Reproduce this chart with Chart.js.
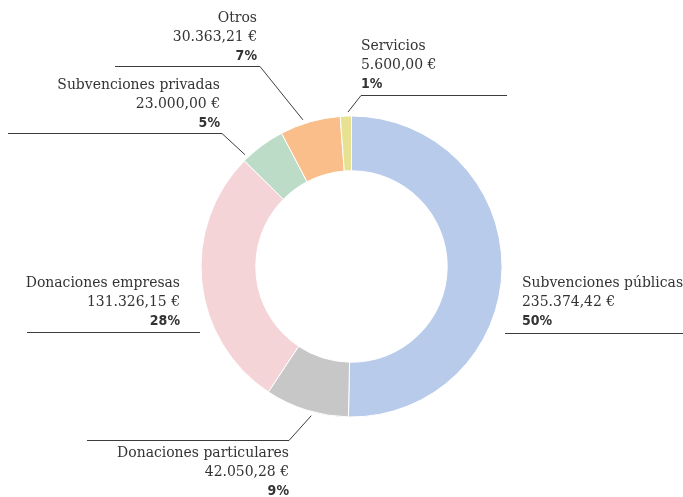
<!DOCTYPE html>
<html>
<head>
<meta charset="utf-8">
<script src="https://cdn.jsdelivr.net/npm/chart.js@4"></script>
<style>
  html, body { margin: 0; padding: 0; background: #fff; }
  #wrap { width: 683px; height: 497px; }
</style>
</head>
<body>
<div id="wrap"><canvas id="ingresos"></canvas></div>
<script>
// data
const categories = ['Subvenciones públicas', 'Donaciones particulares', 'Donaciones empresas',
    'Subvenciones privadas', 'Otros', 'Servicios'];
const amounts = [235374.42, 42050.28, 131326.15, 23000.00, 30363.21, 5600.00];
const pctLabels = ['50%', '9%', '28%', '5%', '7%', '1%'];

const sliceColors = ['#b9cbeb', '#c7c7c7', '#f5d4d8', '#bcdcc8', '#f9be8a', '#e6e291'];

// where each label sits, and where its leader line runs (at = point along the slice)
const labelLayout = [
    { x: 522, y: 283, align: 'left',  lineY: 333, lineFrom: 505, lineTo: 683, at: null },
    { x: 289, y: 453, align: 'right', lineY: 440, lineFrom: 87,  lineTo: 289, at: 0.43 },
    { x: 180, y: 283, align: 'right', lineY: 332, lineFrom: 27,  lineTo: 200, at: null },
    { x: 220, y: 85,  align: 'right', lineY: 133, lineFrom: 8,   lineTo: 222, at: 0.1 },
    { x: 257, y: 18,  align: 'right', lineY: 66,  lineFrom: 115, lineTo: 260, at: 0.4 },
    { x: 361, y: 46,  align: 'left',  lineY: 95,  lineFrom: 361, lineTo: 507, at: 0.7 }
];

function euro(v) {
    let parts = v.toFixed(2).split('.');
    let ent = parts[0].replace(/\B(?=(\d{3})+(?!\d))/g, '.');
    return ent + ',' + parts[1] + ' €';
}

const labelPlugin = {
    id: 'labelPlugin',
    afterDraw(chart) {
        const ctx = chart.ctx;
        const meta = chart.getDatasetMeta(0);
        ctx.save();
        meta.data.forEach((arc, i) => {
            const lay = labelLayout[i];
            const p = arc.getProps(['x', 'y', 'startAngle', 'endAngle', 'outerRadius']);

            // leader line
            ctx.strokeStyle = '#3c3c3c';
            ctx.lineWidth = 1;
            ctx.beginPath();
            ctx.moveTo(lay.lineFrom, lay.lineY + 0.5);
            ctx.lineTo(lay.lineTo, lay.lineY + 0.5);
            if (lay.at !== null) {
                const a = p.startAngle + (p.endAngle - p.startAngle) * lay.at;
                const r = p.outerRadius + 4;
                const end = lay.align === 'left' ? lay.lineFrom : lay.lineTo;
                ctx.moveTo(end, lay.lineY + 0.5);
                ctx.lineTo(p.x + Math.cos(a) * r, p.y + Math.sin(a) * r);
            }
            ctx.stroke();

            // text
            ctx.fillStyle = '#333333';
            ctx.textAlign = lay.align;
            ctx.textBaseline = 'middle';
            ctx.font = '15.5px "DejaVu Serif Condensed", "DejaVu Serif", serif';
            ctx.fillText(categories[i], lay.x, lay.y);
            ctx.fillText(euro(amounts[i]), lay.x, lay.y + 19);
            ctx.font = 'bold 14px "DejaVu Sans Condensed", "DejaVu Sans", sans-serif';
            ctx.fillText(pctLabels[i], lay.x, lay.y + 38);
        });
        ctx.restore();
    }
};

new Chart(document.getElementById('ingresos'), {
    type: 'doughnut',
    data: {
        labels: categories,
        datasets: [{
            data: amounts,
            backgroundColor: sliceColors,
            borderColor: '#ffffff',
            borderWidth: 1
        }]
    },
    options: {
        responsive: true,
        maintainAspectRatio: false,
        animation: false,
        cutout: '63.6%',
        layout: {
            padding: { top: 115.5, bottom: 79.5, left: 200.5, right: 180.5 }
        },
        plugins: {
            legend: { display: false },
            tooltip: { enabled: false }
        }
    },
    plugins: [labelPlugin]
});
</script>
</body>
</html>
